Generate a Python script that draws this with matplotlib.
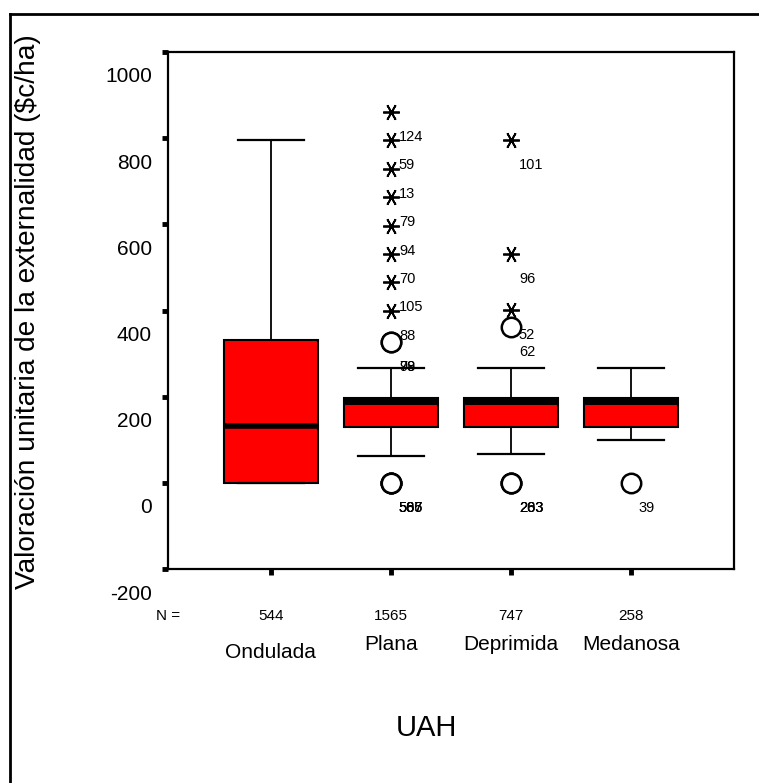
import matplotlib
matplotlib.use("Agg")
import matplotlib.pyplot as plt
from matplotlib.lines import Line2D
from matplotlib.transforms import ScaledTranslation

plt.rcParams['font.family'] = ['Liberation Sans', 'DejaVu Sans']

# datos (SPSS)
categorias = ["Ondulada", "Plana", "Deprimida", "Medanosa"]
n_casos = [544, 1565, 747, 258]
q1 = [0, 130, 130, 130]
mediana = [132, 189, 189, 189]
q3 = [332, 197, 197, 197]
bigote_inf = [0, 62, 67, 100]
bigote_sup = [795, 267, 267, 267]

# extremos (asteriscos)
extremos_x = [2, 2, 2, 2, 2, 2, 2, 2, 3, 3, 3]
extremos_y = [861, 795, 729, 664, 597, 532, 465, 400, 795, 532, 401]
extremos_lab = ["124", "59", "13", "79", "94", "70", "105", "88", "101", "96", "52"]

# atipicos (circulos), varios casos en el mismo valor
atipicos_x = [2, 2, 2, 2, 2, 2, 3, 3, 3, 3, 4]
atipicos_y = [327, 327, 0, 0, 0, 0, 362, 0, 0, 0, 0]
atipicos_lab = ["78", "99", "565", "586", "567", "507", "62", "203", "283", "263", "39"]

yticks = [-200, 0, 200, 400, 600, 800, 1000]

fig = plt.figure(figsize=(7.59, 7.83), dpi=100)
ax = fig.add_axes([168 / 759, 1 - 569 / 783, 566 / 759, 517 / 783])

stats = []
for i in range(len(categorias)):
    stats.append(dict(label=categorias[i], med=mediana[i], q1=q1[i], q3=q3[i],
                      whislo=bigote_inf[i], whishi=bigote_sup[i], fliers=[]))

pos = list(range(1, len(categorias) + 1))
bp = ax.bxp(stats, positions=pos, widths=0.78, capwidths=0.55, patch_artist=True,
            showfliers=False,
            boxprops=dict(facecolor='#ff0000', edgecolor='black', linewidth=1.5),
            medianprops=dict(color='black', linewidth=5, solid_capstyle='butt'),
            whiskerprops=dict(color='black', linewidth=1.3),
            capprops=dict(color='black', linewidth=1.6))
bp['medians'][0].set_linewidth(4)

ax.plot(extremos_x, extremos_y, linestyle='none', marker=(6, 2, 30), markersize=12,
        markeredgecolor='black', markeredgewidth=1.3, zorder=4)
ax.plot(atipicos_x, atipicos_y, linestyle='none', marker='o', markersize=14,
        markerfacecolor='white', markeredgecolor='black', markeredgewidth=1.8, zorder=4)

# etiquetas de casos (SPSS las dibuja desplazadas hacia abajo)
for x, y, t in zip(extremos_x + atipicos_x, extremos_y + atipicos_y, extremos_lab + atipicos_lab):
    ax.annotate(t, (x, y), xytext=(5.8, -18), textcoords='offset points',
                ha='left', va='center', fontsize=10.5, zorder=5)

ax.set_xlim(0.142, 4.86)
ax.set_ylim(-200, 1000)
ax.set_yticks(yticks)
ax.set_xticks(pos)
ax.set_yticklabels([])
ax.set_xticklabels([])
ax.tick_params(axis='both', direction='out', length=4, width=3.5, color='black')
for s in ax.spines.values():
    s.set_linewidth(1.6)

# etiquetas del eje y, tambien desplazadas
off = ScaledTranslation(-0.16, -0.25, fig.dpi_scale_trans)
for v in yticks:
    ax.text(0, v, str(v), transform=ax.get_yaxis_transform() + off,
            ha='right', va='center', fontsize=15)

# N = y nombres de categoria
ax.text(0, -0.091, "N =", transform=ax.transAxes, ha='center', va='center', fontsize=11)
bajo = ax.get_xaxis_transform()
for i, c in enumerate(categorias):
    ax.text(pos[i], 0, str(n_casos[i]), transform=bajo + ScaledTranslation(0, -0.47, fig.dpi_scale_trans),
            ha='center', va='center', fontsize=11)
    dy = -0.83 if i == 0 else -0.75
    ax.text(pos[i], 0, c, transform=bajo + ScaledTranslation(0, dy, fig.dpi_scale_trans),
            ha='center', va='center', fontsize=15)

fig.text(28 / 759, 1 - 312 / 783, "Valoración unitaria de la externalidad ($c/ha)",
         rotation=90, ha='center', va='center', fontsize=20.2)
fig.text(426 / 759, 1 - 728 / 783, "UAH", ha='center', va='center', fontsize=21)

# marco exterior (solo arriba e izquierda visibles)
fig.add_artist(Line2D([10 / 759, 1.0], [1 - 14 / 783, 1 - 14 / 783], color='black', linewidth=2,
                      transform=fig.transFigure))
fig.add_artist(Line2D([10 / 759, 10 / 759], [1 - 14 / 783, 0.0], color='black', linewidth=2,
                      transform=fig.transFigure))

fig.savefig("out.png", dpi=100)
